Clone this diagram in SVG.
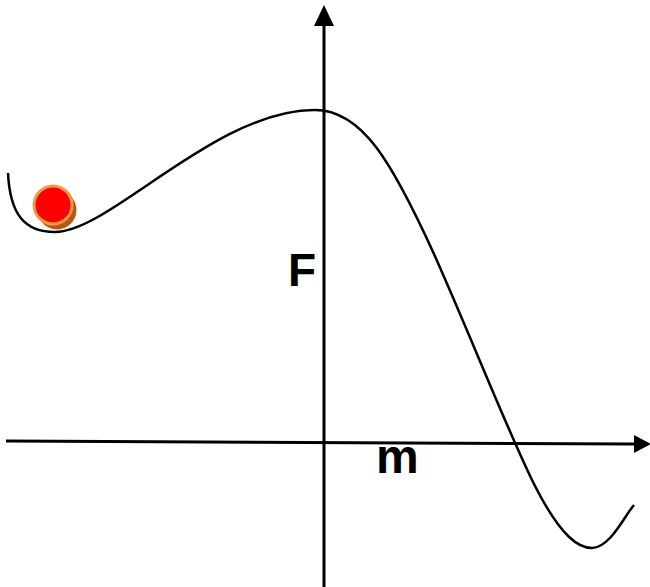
<svg xmlns="http://www.w3.org/2000/svg" width="650" height="587" viewBox="0 0 650 587">
<style>
.ax{stroke:#000;stroke-width:3;fill:none}
.crv{stroke:#000;stroke-width:2.5;fill:none}
.lbl{font-family:"Liberation Sans",Arial,sans-serif;font-weight:bold;fill:#000}
</style>
<rect width="650" height="587" fill="#fff"/>
<g id="connectors">
<line class="ax" x1="324" y1="587" x2="324" y2="24"/>
<polygon points="324,5 314,26 334,26" fill="#000"/>
<line class="ax" x1="6" y1="441" x2="634" y2="444"/>
<polygon points="651,444 634,435 634,453" fill="#000"/>
<path class="crv" d="M8,173 C10,215 25,232 55,232 C110,232 215,110 315,110 C362,110 392,162 434,254 C474,344 503,420 533,482 C562,540 580,548 592,548 C610,548 625,515 634,505"/>
</g>
<g id="ball">
<circle cx="57" cy="210" r="19.5" fill="#b35a1a"/>
<circle cx="53" cy="205" r="19" fill="#ff0000" stroke="#f79646" stroke-width="3"/>
</g>
<g id="label-F"><text class="lbl" x="288" y="286" font-size="46">F</text></g>
<g id="label-m"><text class="lbl" x="376" y="473" font-size="48">m</text></g>
</svg>
